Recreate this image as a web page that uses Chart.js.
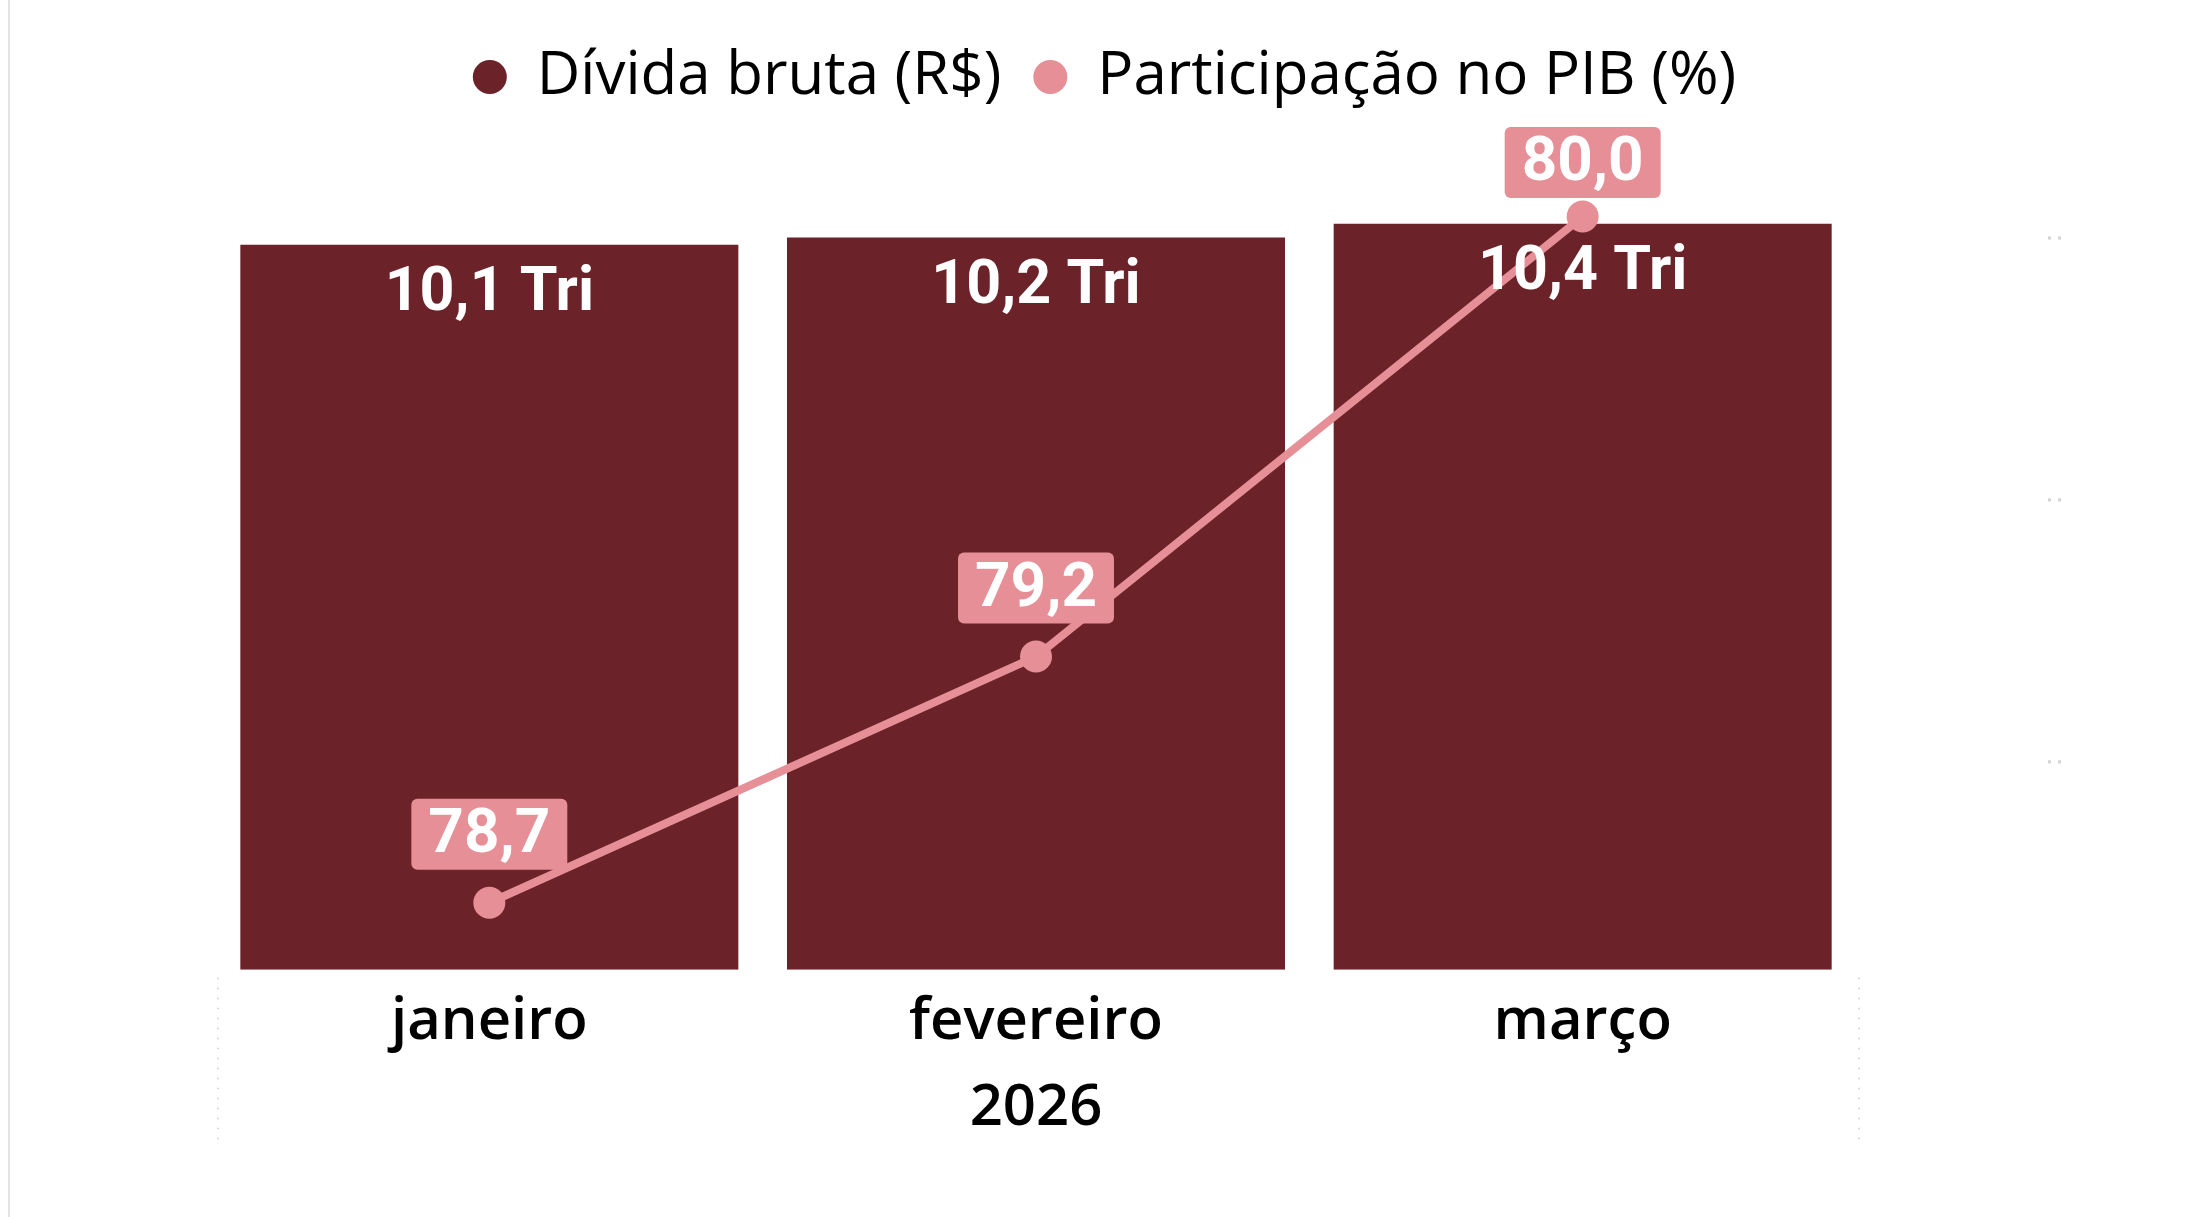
<!DOCTYPE html>
<html lang="pt-BR">
<head>
<meta charset="utf-8">
<title>Dívida bruta e participação no PIB</title>
<script src="https://cdn.jsdelivr.net/npm/chart.js@4.4.1/dist/chart.umd.min.js"></script>
<style>
    html, body { margin: 0; padding: 0; background: #fff; }
    #wrap { position: relative; width: 2191px; height: 1217px; }
    #wrap::before {
        content: ''; position: absolute; left: 8px; top: 0; bottom: 0;
        width: 2px; background: #e4e4e4;
    }
</style>
</head>
<body>
<div id="wrap"><canvas id="debtChart"></canvas></div>
<script>
// Dívida bruta x participação no PIB - 2026

const months = ['janeiro', 'fevereiro', 'março'];
const years = ['2026'];
const debtTrillions = [10.11, 10.21, 10.40]; // R$ tri
const gdpShare = [78.73, 79.20, 80.04];      // % do PIB
const shareTicks = [79.0, 79.5, 80.0];       // marcas quase invisíveis do eixo direito

const BAR_COLOR = '#6B2228';
const LINE_COLOR = '#E68F97';
const TEXT_FONT = "'Open Sans', 'Noto Sans', sans-serif";
const LABEL_FONT = "Roboto, 'Noto Sans', sans-serif";

// 10.11 -> "10,1"
function fmt(v) {
    return v.toFixed(1).replace('.', ',');
}

// Rótulos de dados, separadores pontilhados e marcas do eixo direito
const valueLabels = {
    id: 'valueLabels',
    afterDatasetsDraw(chart) {
        const ctx = chart.ctx;
        const bars = chart.getDatasetMeta(0).data;
        const points = chart.getDatasetMeta(1).data;
        ctx.save();
        ctx.textAlign = 'center';
        ctx.textBaseline = 'middle';

        ctx.font = 'bold 61px ' + LABEL_FONT;
        ctx.fillStyle = '#fff';
        bars.forEach((bar, i) => {
            ctx.fillText(fmt(debtTrillions[i]) + ' Tri', bar.x, bar.y + 50);
        });

        ctx.font = 'bold 62px ' + LABEL_FONT;
        points.forEach((pt, i) => {
            const text = fmt(gdpShare[i]);
            const w = ctx.measureText(text).width + 34;
            const h = 71;
            let top = pt.y - 33 - h;
            top = Math.max(top, chart.chartArea.top + 10); // mantém dentro da área
            ctx.fillStyle = LINE_COLOR;
            ctx.beginPath();
            ctx.roundRect(pt.x - w / 2, top, w, h, 6);
            ctx.fill();
            ctx.fillStyle = '#fff';
            ctx.fillText(text, pt.x, top + h / 2 + 2);
        });
        ctx.restore();
    },
    afterDraw(chart) {
        const ctx = chart.ctx;
        const area = chart.chartArea;
        ctx.save();
        ctx.strokeStyle = '#c9c9c9';
        ctx.lineWidth = 1.5;
        ctx.setLineDash([1.5, 8.5]);
        [area.left + 2, area.right + 3].forEach(x => {
            ctx.beginPath();
            ctx.moveTo(x, area.bottom + 8);
            ctx.lineTo(x, area.bottom + 176);
            ctx.stroke();
        });

        // eixo secundário oculto: só sobram dois pontinhos por marca
        const y2 = chart.scales.y2;
        ctx.fillStyle = '#d2d2d2';
        shareTicks.forEach(t => {
            const y = y2.getPixelForValue(t);
            ctx.fillRect(area.right + 192, y - 1, 3, 3);
            ctx.fillRect(area.right + 202, y - 1, 3, 3);
        });
        ctx.restore();
    }
};

document.addEventListener('DOMContentLoaded', function() {
    const ctx = document.getElementById('debtChart');

    new Chart(ctx, {
        type: 'bar',
        data: {
            labels: months,
            datasets: [
                {
                    label: 'Dívida bruta (R$)',
                    data: debtTrillions,
                    backgroundColor: BAR_COLOR,
                    borderWidth: 0,
                    categoryPercentage: 1,
                    barPercentage: 0.911,
                    yAxisID: 'y',
                    order: 1
                },
                {
                    label: 'Participação no PIB (%)',
                    type: 'line',
                    data: gdpShare,
                    borderColor: LINE_COLOR,
                    backgroundColor: LINE_COLOR,
                    borderWidth: 8,
                    pointRadius: 16,
                    pointBorderWidth: 0,
                    pointBackgroundColor: LINE_COLOR,
                    tension: 0,
                    yAxisID: 'y2',
                    order: 0
                }
            ]
        },
        options: {
            responsive: true,
            maintainAspectRatio: false,
            animation: false,
            layout: {
                padding: { top: 15, left: 18, right: 0, bottom: 76 }
            },
            plugins: {
                tooltip: { enabled: false },
                legend: {
                    display: true,
                    position: 'top',
                    labels: {
                        usePointStyle: true,
                        boxHeight: 24,
                        pointStyleWidth: 34,
                        padding: 32,
                        color: '#000',
                        font: { family: TEXT_FONT, size: 60 },
                        sort: (a, b) => a.datasetIndex - b.datasetIndex
                    }
                }
            },
            scales: {
                x: {
                    offset: true,
                    grid: { display: false },
                    border: { display: false },
                    ticks: {
                        color: '#000',
                        padding: 10,
                        font: { family: TEXT_FONT, size: 58, weight: '600' }
                    }
                },
                x2: {
                    type: 'category',
                    labels: years,
                    position: 'bottom',
                    weight: 1,
                    offset: true,
                    grid: { display: false },
                    border: { display: false },
                    ticks: {
                        color: '#000',
                        padding: -2,
                        font: { family: TEXT_FONT, size: 58, weight: '600' }
                    }
                },
                y: {
                    position: 'left',
                    min: 0,
                    max: 11.89,
                    grid: { display: false },
                    border: { display: false },
                    ticks: { display: false },
                    afterFit(scale) { scale.width = 198; }
                },
                y2: {
                    position: 'right',
                    min: 78.602,
                    max: 80.23,
                    grid: { display: false },
                    border: { display: false },
                    ticks: { display: false },
                    afterFit(scale) { scale.width = 335; }
                }
            }
        },
        plugins: [valueLabels]
    });
});
</script>
</body>
</html>
